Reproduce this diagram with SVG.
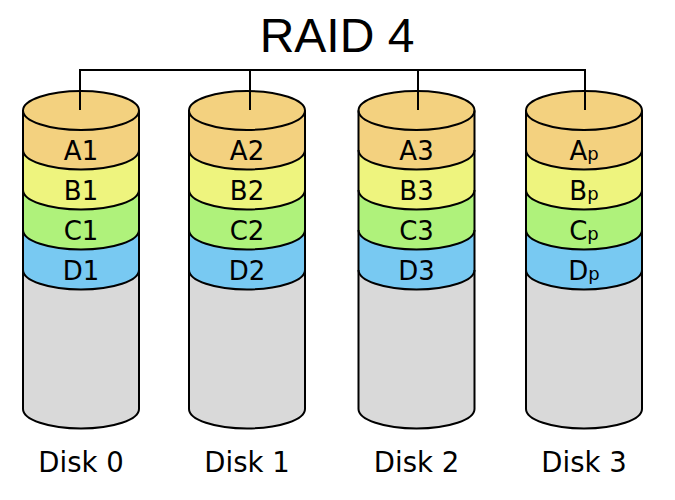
<svg xmlns="http://www.w3.org/2000/svg" xmlns:xlink="http://www.w3.org/1999/xlink" width="675" height="500" viewBox="0 0 675 500">
<style>
.ln{fill:none;stroke:#000;stroke-width:2}
.top{fill:#f3d17f;stroke:#000;stroke-width:2}
.lbl{font-family:"DejaVu Sans",sans-serif;font-size:26px;text-anchor:middle;fill:#000}
.dl{font-family:"DejaVu Sans",sans-serif;font-size:27.5px;text-anchor:middle;fill:#000}
.sub{font-size:18px}
.title{font-family:"Liberation Sans",Arial,sans-serif;font-size:48px;text-anchor:middle;fill:#000}
</style>
<defs>
<g id="cyl">
<path d="M-58,110 L-58,409 A58,19.5 0 0 0 58,409 L58,110 Z" fill="#d9d9d9"/>
<path d="M-58,230 L-58,270 A58,19.5 0 0 0 58,270 L58,230 Z" fill="#78c9f2"/>
<path d="M-58,190 L-58,230 A58,19.5 0 0 0 58,230 L58,190 Z" fill="#aff27b"/>
<path d="M-58,150 L-58,190 A58,19.5 0 0 0 58,190 L58,150 Z" fill="#eef47e"/>
<path d="M-58,110 L-58,150 A58,19.5 0 0 0 58,150 L58,110 Z" fill="#f3d17f"/>
<ellipse class="top" cx="0" cy="110.5" rx="58" ry="19.5"/>
<path class="ln" d="M-58,150 A58,19.5 0 0 0 58,150 M-58,190 A58,19.5 0 0 0 58,190 M-58,230 A58,19.5 0 0 0 58,230 M-58,270 A58,19.5 0 0 0 58,270"/>
<path class="ln" d="M-58,110.5 L-58,409 A58,19.5 0 0 0 58,409 L58,110.5"/>
</g>
</defs>
<text class="title" x="337" y="52">RAID 4</text>
<g id="disk0" transform="translate(81,0)">
<use xlink:href="#cyl" href="#cyl"/>
<text class="lbl" x="0" y="160">A1</text>
<text class="lbl" x="0" y="200">B1</text>
<text class="lbl" x="0" y="240">C1</text>
<text class="lbl" x="0" y="280">D1</text>
<text class="dl" x="0" y="472">Disk 0</text>
</g>
<g id="disk1" transform="translate(247,0)">
<use xlink:href="#cyl" href="#cyl"/>
<text class="lbl" x="0" y="160">A2</text>
<text class="lbl" x="0" y="200">B2</text>
<text class="lbl" x="0" y="240">C2</text>
<text class="lbl" x="0" y="280">D2</text>
<text class="dl" x="0" y="472">Disk 1</text>
</g>
<g id="disk2" transform="translate(416.5,0)">
<use xlink:href="#cyl" href="#cyl"/>
<text class="lbl" x="0" y="160">A3</text>
<text class="lbl" x="0" y="200">B3</text>
<text class="lbl" x="0" y="240">C3</text>
<text class="lbl" x="0" y="280">D3</text>
<text class="dl" x="0" y="472">Disk 2</text>
</g>
<g id="disk3" transform="translate(584,0)">
<use xlink:href="#cyl" href="#cyl"/>
<text class="lbl" x="0" y="160">A<tspan class="sub">p</tspan></text>
<text class="lbl" x="0" y="200">B<tspan class="sub">p</tspan></text>
<text class="lbl" x="0" y="240">C<tspan class="sub">p</tspan></text>
<text class="lbl" x="0" y="280">D<tspan class="sub">p</tspan></text>
<text class="dl" x="0" y="472">Disk 3</text>
</g>
<g id="connectors">
<path class="ln" d="M80,110 L80,70 L585,70 L585,110 M250,70 L250,110 M418,70 L418,110"/>
</g>
</svg>
